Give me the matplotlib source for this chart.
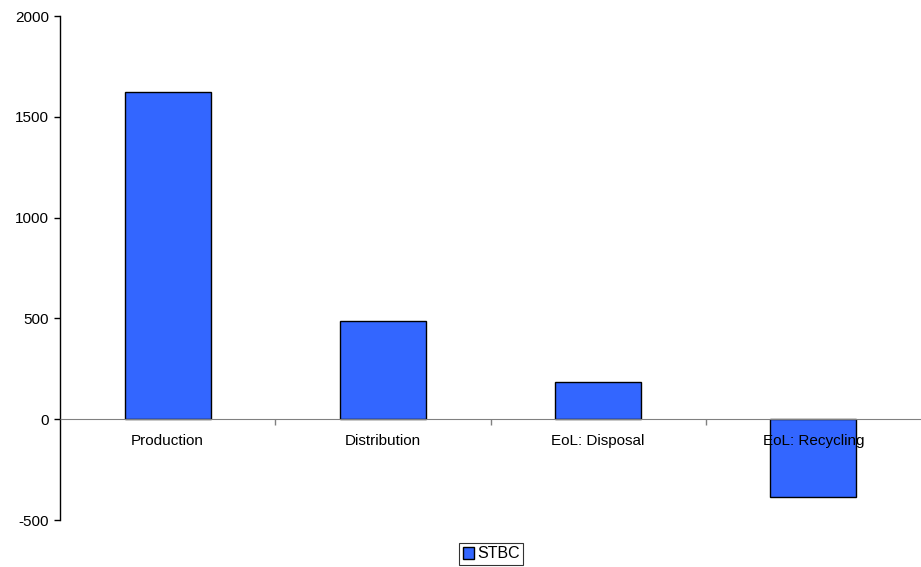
import matplotlib
matplotlib.use("Agg")
import matplotlib.pyplot as plt
from matplotlib.ticker import FixedLocator

plt.rcParams['font.family'] = ['Liberation Sans', 'DejaVu Sans']
plt.rcParams['axes.unicode_minus'] = False

# data
categories = ["Production", "Distribution", "EoL: Disposal", "EoL: Recycling"]
stbc = [1624, 485, 183, -386]
yticks = [-500, 0, 500, 1000, 1500, 2000]

fig = plt.figure(figsize=(9.21, 5.67), dpi=100)
ax = fig.add_axes([60 / 921, 1 - 520 / 567, 861 / 921, 504 / 567])

x = list(range(len(categories)))
ax.bar(x, stbc, width=0.4, color="#3366FF", edgecolor="black", linewidth=1,
       label="STBC", zorder=1)

ax.set_xlim(-0.5, len(categories) - 0.5)
ax.set_ylim(-500, 2000)
ax.set_yticks(yticks)
ax.tick_params(axis="y", direction="out", length=4, width=1, color="black",
               labelsize=11, pad=4)

# x axis sits on the zero line
for s in ["top", "right"]:
    ax.spines[s].set_visible(False)
ax.spines["bottom"].set_position(("data", 0))
ax.spines["bottom"].set_color("#808080")
ax.spines["left"].set_color("black")
ax.spines["left"].set_linewidth(1)

ax.set_xticks(x)
ax.set_xticklabels(categories)
ax.tick_params(axis="x", which="major", length=0, labelsize=11, pad=11)
ax.xaxis.set_minor_locator(FixedLocator([0.5, 1.5, 2.5]))
ax.tick_params(axis="x", which="minor", direction="out", length=4, width=1,
               color="#808080")
for lbl in ax.get_xticklabels():
    lbl.set_zorder(5)
ax.set_axisbelow(False)

leg = fig.legend(loc="center", bbox_to_anchor=(491 / 921, 1 - 554 / 567),
                 fontsize=11.5, frameon=True, fancybox=False, handlelength=0.7,
                 handleheight=0.7, handletextpad=0.2, borderpad=0.25,
                 borderaxespad=0)
leg.get_frame().set_edgecolor("black")
leg.get_frame().set_linewidth(0.8)

fig.savefig("out.png", dpi=100)
